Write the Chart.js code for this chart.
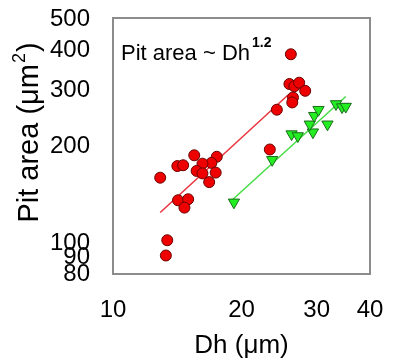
<!DOCTYPE html>
<html>
<head>
<meta charset="utf-8">
<script src="https://cdn.jsdelivr.net/npm/chart.js@4"></script>
<style>
  html, body { margin: 0; padding: 0; background: #fff; }
  #wrap { width: 397px; height: 363px; }
</style>
</head>
<body>
<div id="wrap"><canvas id="myChart" width="397" height="363"></canvas></div>
<script>
// red circles (Dh, pit area)
const redDh = [26.1, 25.9, 26.6, 27.3, 28.2, 26.4, 26.3, 24.2, 23.3,
  15.5, 14.15, 14.6, 17.5, 17.0, 16.2, 15.7, 16.2, 17.4, 16.8, 12.9,
  14.2, 15.0, 14.7, 13.4, 13.3];
const redArea = [389, 314, 309, 317, 299, 285, 275, 261, 196,
  188, 174, 175, 186, 178, 177, 168, 165, 166, 155, 160,
  136, 137, 129, 102, 91.4];

// green triangles
const greenDh = [19.2, 23.6, 26.2, 27.1, 29.4, 28.9, 29.6, 30.3, 31.8, 33.3, 34.4, 35.1];
const greenArea = [134, 182, 219, 216, 222, 235, 250, 261, 235, 272, 266, 267];

// fit lines (end points)
const redFitDh = [12.9, 25.7];
const redFitArea = [124.5, 290];
const greenFitDh = [19.1, 35.1];
const greenFitArea = [137, 287];

const xTicks = [10, 20, 30, 40];
const yTicks = [80, 90, 100, 200, 300, 400, 500];

const FONT = "'Liberation Sans', Arial, sans-serif";

function toPoints(xs, ys) {
  return xs.map((x, i) => ({ x: x, y: ys[i] }));
}

// frame + annotation + y title
const extras = {
  id: "extras",
  afterDraw(chart) {
    const c = chart.ctx;
    const a = chart.chartArea;
    c.save();
    c.strokeStyle = "#8c8c8c";
    c.lineWidth = 2;
    c.strokeRect(a.left, a.top, a.right - a.left, a.bottom - a.top);

    // annotation
    c.fillStyle = "#000";
    c.textBaseline = "alphabetic";
    c.textAlign = "left";
    c.font = "22px " + FONT;
    c.fillText("Pit area ~ Dh", 121, 60);
    const w = c.measureText("Pit area ~ Dh").width;
    c.font = "bold 14px " + FONT;
    c.fillText("1.2", 121 + w + 2, 47);

    // y axis title
    c.translate(38, 133);
    c.rotate(-Math.PI / 2);
    c.font = "29px " + FONT;
    const main = "Pit area (\u03bcm";
    const mw = c.measureText(main).width;
    c.font = "18px " + FONT;
    const sw = c.measureText("2").width;
    c.font = "29px " + FONT;
    const cw = c.measureText(")").width;
    const total = mw + sw + 1 + cw;
    let x0 = -total / 2;
    c.fillText(main, x0, 0);
    c.font = "18px " + FONT;
    c.fillText("2", x0 + mw + 1, -13);
    c.font = "29px " + FONT;
    c.fillText(")", x0 + mw + sw + 2, 0);
    c.restore();
  }
};

const ctx = document.getElementById("myChart").getContext("2d");
const myChart = new Chart(ctx, {
  type: "scatter",
  data: {
    datasets: [
      {
        data: toPoints(redDh, redArea),
        pointStyle: "circle",
        pointRadius: 5.5,
        backgroundColor: "#ee0000",
        borderColor: "#6a0000",
        borderWidth: 1,
        order: 0,
      },
      {
        data: toPoints(greenDh, greenArea),
        pointStyle: "triangle",
        pointRotation: 180,
        pointRadius: 6.5,
        backgroundColor: "#22ee22",
        borderColor: "#1b6b1b",
        borderWidth: 1,
        order: 0,
      },
      {
        data: toPoints(redFitDh, redFitArea),
        showLine: true,
        pointRadius: 0,
        borderColor: "#e8323c",
        borderWidth: 1.5,
        order: 1,
      },
      {
        data: toPoints(greenFitDh, greenFitArea),
        showLine: true,
        pointRadius: 0,
        borderColor: "#44dd44",
        borderWidth: 1.5,
        order: 1,
      },
    ],
  },
  options: {
    responsive: false,
    animation: false,
    layout: { padding: { top: 18, right: 27, left: 0, bottom: 0 } },
    plugins: { legend: { display: false }, tooltip: { enabled: false } },
    scales: {
      x: {
        type: "logarithmic",
        min: 10,
        max: 40,
        grid: { display: false },
        border: { display: false },
        afterBuildTicks: (s) => { s.ticks = xTicks.map((v) => ({ value: v })); },
        afterFit: (s) => { s.height = 89; s.paddingLeft = 0; s.paddingRight = 0; },
        ticks: {
          color: "#000",
          padding: 14,
          maxRotation: 0,
          autoSkip: false,
          font: { family: FONT, size: 24 },
          callback: (v) => String(v),
        },
        title: {
          display: true,
          text: "Dh (\u03bcm)",
          color: "#000",
          font: { family: FONT, size: 26 },
          padding: { top: 0, bottom: 2 },
        },
      },
      y: {
        type: "logarithmic",
        min: 80,
        max: 505,
        grid: { display: false },
        border: { display: false },
        afterBuildTicks: (s) => { s.ticks = yTicks.map((v) => ({ value: v })); },
        afterFit: (s) => { s.width = 113; s.paddingTop = 0; s.paddingBottom = 0; },
        ticks: {
          color: "#000",
          padding: 15,
          autoSkip: false,
          font: { family: FONT, size: 24 },
          callback: (v) => String(v),
        },
      },
    },
  },
  plugins: [extras],
});
</script>
</body>
</html>
